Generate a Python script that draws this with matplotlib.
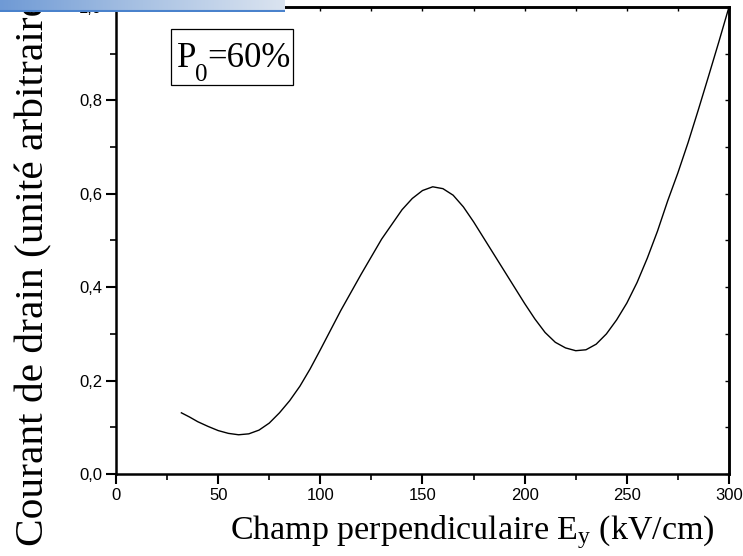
import numpy as np
import matplotlib
matplotlib.use("Agg")
import matplotlib.pyplot as plt
from matplotlib.ticker import MultipleLocator
from matplotlib.colors import LinearSegmentedColormap
from matplotlib.patches import Rectangle

plt.rcParams['mathtext.fontset'] = 'custom'
plt.rcParams['mathtext.rm'] = 'Liberation Serif'
plt.rcParams['mathtext.it'] = 'Liberation Serif:italic'

# Data
field = [32, 36, 40, 45, 50, 55, 60, 65, 70, 75, 80, 85, 90, 95, 100, 110,
         120, 130, 140, 145, 150, 155, 160, 165, 170, 175, 180, 185, 190, 195,
         200, 205, 210, 215, 220, 225, 230, 235, 240, 245, 250, 255, 260, 265,
         270, 275, 280, 285, 290, 295, 300]
current = [0.131, 0.122, 0.112, 0.102, 0.093, 0.087, 0.084, 0.086, 0.094,
           0.109, 0.131, 0.157, 0.188, 0.225, 0.266, 0.350, 0.428, 0.503,
           0.566, 0.590, 0.607, 0.615, 0.611, 0.597, 0.572, 0.540, 0.505,
           0.470, 0.435, 0.400, 0.365, 0.332, 0.303, 0.282, 0.270, 0.264,
           0.266, 0.278, 0.300, 0.330, 0.366, 0.410, 0.462, 0.520, 0.585,
           0.645, 0.710, 0.780, 0.852, 0.925, 1.000]
x_ticks = [0, 50, 100, 150, 200, 250, 300]
y_ticks = [0.0, 0.2, 0.4, 0.6, 0.8, 1.0]
y_ticklabels = ['0,0', '0,2', '0,4', '0,6', '0,8', '1,0']

W, H = 743, 556
fig = plt.figure(figsize=(W / 100, H / 100), dpi=100)
ax = fig.add_axes([116 / W, 1 - 474 / H, (729 - 116) / W, (474 - 7) / H])

ax.plot(field, current, color='black', lw=1.0)
ax.set_xlim(0, 300)
ax.set_ylim(0, 1.0)

ax.set_xticks(x_ticks)
ax.set_xticklabels([str(v) for v in x_ticks])
ax.set_yticks(y_ticks)
ax.set_yticklabels(y_ticklabels)
ax.xaxis.set_minor_locator(MultipleLocator(25))
ax.yaxis.set_minor_locator(MultipleLocator(0.1))
ax.tick_params(which='major', direction='out', length=7, width=1.5,
               labelsize=12, pad=3)
ax.tick_params(which='minor', direction='out', length=4, width=1.2)
for lab in ax.get_xticklabels() + ax.get_yticklabels():
    lab.set_fontfamily('Liberation Sans')
for sp in ax.spines.values():
    sp.set_linewidth(1.8)

# inward ticks on top and right
sx = ax.secondary_xaxis('top')
sx.set_xticks(x_ticks)
sx.set_xticklabels([])
sx.xaxis.set_minor_locator(MultipleLocator(25))
sx.tick_params(which='both', direction='in', length=3, width=1.0)
sy = ax.secondary_yaxis('right')
sy.set_yticks(y_ticks)
sy.set_yticklabels([])
sy.yaxis.set_minor_locator(MultipleLocator(0.1))
sy.tick_params(which='both', direction='in', length=3, width=1.0)
for s in (sx, sy):
    for sp in s.spines.values():
        sp.set_linewidth(1.8)

fig.text(472 / W, 1 - 539 / H, r'Champ perpendiculaire E$_{\mathrm{y}}$ (kV/cm)',
         fontfamily='Liberation Serif', fontsize=24.5, ha='center',
         va='baseline')
fig.text(34 / W, 1 - 546 / H, 'Courant de drain (unité arbitraire)',
         fontfamily='Liberation Serif', fontsize=29.8, rotation=90,
         ha='center', va='bottom')

# P0 annotation box (pixel positions from the reference)
fig.patches.append(Rectangle((171 / W, 1 - 85 / H), (293 - 171) / W, (85 - 29) / H,
                             transform=fig.transFigure, fc='white', ec='black',
                             lw=0.9, zorder=5))
fig.text(177 / W, 1 - 67 / H, 'P', fontfamily='Liberation Serif', fontsize=25,
         ha='left', va='baseline', zorder=6)
fig.text(195 / W, 1 - 81 / H, '0', fontfamily='Liberation Serif', fontsize=18,
         ha='left', va='baseline', zorder=6)
fig.text(207 / W, 1 - 67 / H, '=60%', fontfamily='Liberation Serif', fontsize=25,
         ha='left', va='baseline', zorder=6)

# blue gradient bar at top left
bar = fig.add_axes([0, 1 - 12 / H, 285 / W, 12 / H], zorder=10)
cmap = LinearSegmentedColormap.from_list('bar', ['#6f9ad5', '#a9c2e3', '#dbe4f0'])
grad = np.linspace(0, 1, 256).reshape(1, -1)
bar.imshow(grad, aspect='auto', cmap=cmap, extent=[0, 1, 0, 1])
bar.axhline(0.06, color='#4a82cc', lw=1.5)
bar.set_axis_off()

fig.savefig('out.png', dpi=100)
